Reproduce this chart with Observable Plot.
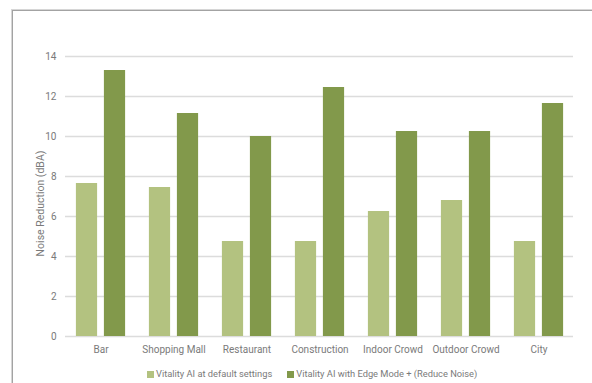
<!DOCTYPE html>
<html>
<head>
<meta charset="utf-8">
<script src="https://cdn.jsdelivr.net/npm/d3@7"></script>
<script src="https://cdn.jsdelivr.net/npm/@observablehq/plot@0.6"></script>
<style>
  html, body { margin: 0; padding: 0; background: #fff; }
  body { width: 592px; height: 383px; position: relative; overflow: hidden; font-family: Roboto, "DejaVu Sans", sans-serif; }
  #frame { position: absolute; left: 12px; top: 10px; width: 600px; height: 400px;
           border-left: 1px solid #a3a3a3; border-top: 1px solid #a3a3a3;
           box-shadow: -1px -1px 0 #d6d6d6; }
  #chart { position: absolute; left: 0; top: 0; }
  #legend { position: absolute; left: 147px; top: 368px; }
  body .nr-swatches, body .nr-swatches-wrap { font-family: Roboto, sans-serif !important; font-size: 9.3px !important; color: #7a7a7a; margin: 0 !important; min-height: 0 !important; line-height: 12px; }
  body .nr-swatch { margin-right: 15px !important; }
  body .nr-swatch > svg { margin-right: 2px !important; }
</style>
</head>
<body>
<div id="frame"></div>
<div id="chart"></div>
<div id="legend"></div>
<script>
// Noise reduction by listening environment, two processing modes
const categories = ["Bar", "Shopping Mall", "Restaurant", "Construction", "Indoor Crowd", "Outdoor Crowd", "City"];
const defaultSettings = [7.65, 7.45, 4.75, 4.75, 6.25, 6.8, 4.75];
const edgeModeReduceNoise = [13.3, 11.15, 10.0, 12.45, 10.25, 10.25, 11.65];
const seriesNames = ["Vitality AI at default settings", "Vitality AI with Edge Mode + (Reduce Noise)"];
const seriesColors = ["#b3c280", "#82994b"];
const yTicks = [0, 2, 4, 6, 8, 10, 12, 14];
const yTitle = "Noise Reduction (dBA)";

const rows = categories.flatMap((c, i) => [
  {category: c, series: seriesNames[0], value: defaultSettings[i]},
  {category: c, series: seriesNames[1], value: edgeModeReduceNoise[i]}
]);

const plot = Plot.plot({
  width: 592,
  height: 362,
  marginTop: 56,
  marginBottom: 26,
  marginLeft: 61,
  marginRight: 15,
  style: {fontFamily: "Roboto, sans-serif", fontSize: "10px", color: "#7a7a7a", background: "transparent"},
  x: {domain: categories, padding: 0, label: null, tickSize: 0, tickPadding: 9},
  y: {domain: [0, 14], ticks: yTicks, label: null, tickSize: 0, tickPadding: 5, tickFormat: d3.format("d")},
  color: {domain: seriesNames, range: seriesColors},
  marks: [
    Plot.ruleY(yTicks, {stroke: "#dcdcdc", strokeWidth: 1.5, insetLeft: 4, insetRight: 4}),
    Plot.barY(rows.filter(d => d.series === seriesNames[0]), {
      x: "category", y: "value", fill: "series", insetLeft: 11.9, insetRight: 39.9
    }),
    Plot.barY(rows.filter(d => d.series === seriesNames[1]), {
      x: "category", y: "value", fill: "series", insetLeft: 39.9, insetRight: 11.9
    }),
    Plot.text([yTitle], {
      frameAnchor: "left", text: d => d, rotate: -90, dx: -21, dy: 7,
      textAnchor: "middle", fill: "#7a7a7a", fontSize: 10.5
    })
  ]
});
document.getElementById("chart").appendChild(plot);

const legend = plot.legend("color", {className: "nr", swatchSize: 7});
document.getElementById("legend").appendChild(legend);
</script>
</body>
</html>
